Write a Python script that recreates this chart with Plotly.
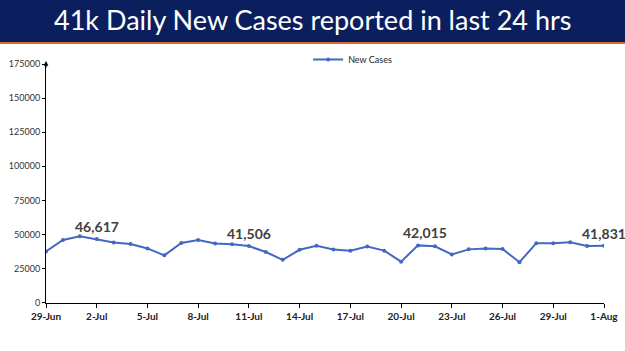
import plotly.graph_objects as go
import pandas as pd

dates = pd.date_range("2021-06-29", "2021-08-01").strftime("%Y-%m-%d").tolist()
new_cases = [37566, 45951, 48786, 46617, 44111, 43071, 39796, 34703, 43733, 45892,
             43393, 42766, 41506, 37154, 31443, 38792, 41806, 38949, 38079, 41157,
             38164, 30093, 42015, 41383, 35342, 39097, 39742, 39361, 29689, 43654,
             43509, 44230, 41649, 41831]
label_dates = ["2021-07-02", "2021-07-11", "2021-07-21", "2021-08-01"]
label_xshift = [0, 0, 7, 0]
tick_dates = dates[::3]
y_ticks = [0, 25000, 50000, 75000, 100000, 125000, 150000, 175000]
title = "41k Daily New Cases reported in last 24 hrs"

W, H = 625, 351
x0px, x1px = 46, 604
ybot, ytop = 302.7, 64

fig = go.Figure()
fig.add_trace(go.Scatter(
    x=dates, y=new_cases, mode="lines+markers", name="New Cases",
    line=dict(color="#4169c4", width=2),
    marker=dict(size=4, color="#4169c4"),
))

for d, xs in zip(label_dates, label_xshift):
    v = new_cases[dates.index(d)]
    fig.add_annotation(x=d, y=v, text=f"{v:,}", showarrow=False,
                       yanchor="bottom", yshift=2, xshift=xs,
                       font=dict(family="Lato", size=14, color="#404040", weight="bold"))

# title bar
fig.add_shape(type="rect", xref="paper", yref="paper", x0=-0.1, x1=1.1,
              y0=1 - 42 / H, y1=1.01, fillcolor="#0b1f5e", line_width=0, layer="above")
fig.add_shape(type="line", xref="paper", yref="paper", x0=-0.1, x1=1.1,
              y0=1 - 43 / H, y1=1 - 43 / H, line=dict(color="#e06a2c", width=2))
fig.add_annotation(xref="paper", yref="paper", x=0.5, y=1 - 20 / H, text=title,
                   showarrow=False, xanchor="center", yanchor="middle",
                   font=dict(family="Lato", size=27, color="white"))

# y-axis arrow
fig.add_annotation(xref="paper", yref="paper", x=x0px / W, y=1 - 61 / H,
                   ax=0, ay=8, axref="pixel", ayref="pixel", text="",
                   showarrow=True, arrowhead=2, arrowsize=0.8, arrowwidth=1.2,
                   arrowcolor="black")

fig.update_layout(
    width=W, height=H, margin=dict(l=0, r=0, t=0, b=0, autoexpand=False),
    paper_bgcolor="white", plot_bgcolor="white",
    showlegend=True,
    legend=dict(x=0.493, y=1 - 45 / H, xanchor="left", yanchor="top",
                orientation="h", font=dict(family="Lato", size=9, color="#222"),
                bgcolor="rgba(0,0,0,0)", itemwidth=30),
    xaxis=dict(domain=[x0px / W, x1px / W], type="date",
               range=[dates[0], dates[-1]], automargin=False,
               tickvals=tick_dates, tickformat="%-d-%b",
               ticks="outside", ticklen=4, tickcolor="black",
               showline=True, linecolor="black", linewidth=1,
               showgrid=False, zeroline=False,
               tickfont=dict(family="Lato", size=10, color="#222", weight="bold")),
    yaxis=dict(domain=[1 - ybot / H, 1 - ytop / H], range=[0, 175000],
               tickvals=y_ticks, tickformat="d", automargin=False,
               ticks="outside", ticklen=3, tickcolor="black",
               showline=True, linecolor="black", linewidth=1,
               showgrid=False, zeroline=False,
               tickfont=dict(family="Lato", size=9, color="#333")),
)

fig.write_html("out.html")
